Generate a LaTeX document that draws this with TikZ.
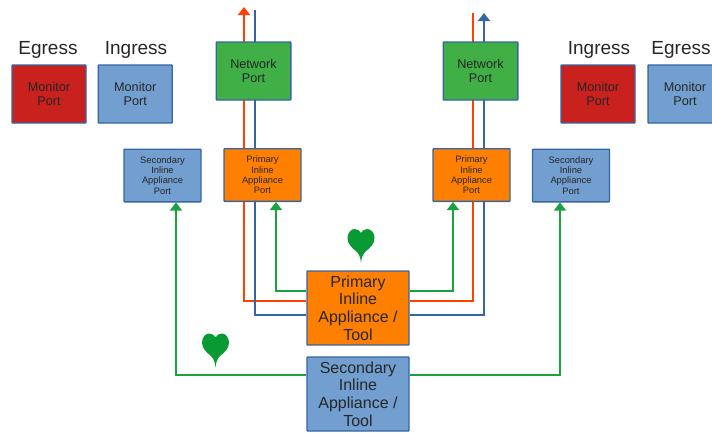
\documentclass[tikz,border=0pt]{standalone}
\usepackage{fontspec}
\setmainfont{Liberation Sans}
\usetikzlibrary{arrows.meta,backgrounds}
\definecolor{portblue}{HTML}{729FCF}
\definecolor{edgeblue}{HTML}{3465A4}
\definecolor{portred}{HTML}{C9211E}
\definecolor{portgreen}{HTML}{3FAF46}
\definecolor{portorange}{HTML}{FF8000}
\definecolor{linered}{HTML}{FF4000}
\definecolor{linegreen}{HTML}{18A33F}
\definecolor{heartgreen}{HTML}{0A9A33}
\tikzset{
  box/.style={draw=edgeblue,line width=1pt,rounded corners=.5pt,inner sep=0pt,align=center,text=black!85},
  monitor/.style={box,minimum width=55.5pt,minimum height=43.5pt,font=\fontsize{9.5}{11}\selectfont},
  netport/.style={monitor,minimum width=56pt,fill=portgreen},
  inlineport/.style={box,minimum width=57.75pt,minimum height=39.5pt,font=\fontsize{7}{7.7}\selectfont},
  tool/.style={box,minimum width=76.5pt,minimum height=55.5pt,font=\fontsize{12}{13.2}\selectfont},
  heading/.style={inner sep=0pt,font=\fontsize{14.25}{16}\selectfont,text=black!85},
  wire/.style={line width=1.2pt},
  tip/.style={-{Triangle[width=9pt,length=6pt]}},
  pics/heart/.style={code={
    \fill[heartgreen] (0,17) .. controls (-.5,11) and (-2,8) .. (-5,5)
      .. controls (-9,2) and (-13.5,-2) .. (-13.5,-8)
      .. controls (-13.5,-13) and (-10,-17) .. (-6.5,-17)
      .. controls (-3.5,-17) and (-1,-15.5) .. (0,-13)
      .. controls (1,-15.5) and (3.5,-17) .. (6.5,-17)
      .. controls (10,-17) and (13.5,-13) .. (13.5,-8)
      .. controls (13.5,-2) and (9,2) .. (5,5)
      .. controls (2,8) and (.5,11) .. (0,17) -- cycle;
  }}
}
\begin{document}
\begin{tikzpicture}[x=.75pt,y=-.75pt]
  \clip (0,0) rectangle (712,432);
  \node[heading] (egressL) at (48,50) {Egress};
  \node[heading] (ingressL) at (136,50) {Ingress};
  \node[heading] (ingressR) at (599,50) {Ingress};
  \node[heading] (egressR) at (681,50) {Egress};
  \node[monitor,fill=portred] (monEgressL) at (49,94) {Monitor\\Port};
  \node[monitor,fill=portblue] (monIngressL) at (135.25,94) {Monitor\\Port};
  \node[monitor,fill=portred] (monIngressR) at (598,94) {Monitor\\Port};
  \node[monitor,fill=portblue] (monEgressR) at (685,94) {Monitor\\Port};
  \node[netport] (netL) at (253.5,71) {Network\\Port};
  \node[netport] (netR) at (480.5,71) {Network\\Port};
  \node[inlineport,fill=portblue] (secL) at (162.5,175.5) {Secondary\\Inline\\Appliance\\Port};
  \node[inlineport,fill=portorange] (priL) at (262.5,175) {Primary\\Inline\\Appliance\\Port};
  \node[inlineport,fill=portorange] (priR) at (471.5,175) {Primary\\Inline\\Appliance\\Port};
  \node[inlineport,fill=portblue] (secR) at (571,175.5) {Secondary\\Inline\\Appliance\\Port};
  \node[tool,fill=portorange] (toolP) at (358,308) {Primary\\Inline\\Appliance /\\Tool};
  \node[tool,fill=portblue] (toolS) at (358,394) {Secondary\\Inline\\Appliance /\\Tool};
  \coordinate (redL) at (244,7);
  \coordinate (blueL) at (255,10);
  \coordinate (redR) at (473,13);
  \coordinate (blueR) at (484,13);
  \pic (heartP) at (361,246) {heart};
  \pic (heartS) at (215.5,350.5) {heart};
  \begin{pgfonlayer}{background}
    \draw[wire,linered,tip] ([yshift=5.25pt]toolP.west) -| (redL);
    \draw[wire,edgeblue] ([yshift=-5.25pt]toolP.west) -| (blueL);
    \draw[wire,linered] ([yshift=5.25pt]toolP.east) -| (redR);
    \draw[wire,edgeblue,tip] ([yshift=-5.25pt]toolP.east) -| (blueR);
  \end{pgfonlayer}
  \draw[wire,linegreen,tip] ([yshift=12.75pt]toolP.west) -| ([xshift=10.1pt]priL.south);
  \draw[wire,linegreen,tip] ([yshift=12.75pt]toolP.east) -| ([xshift=-13.9pt]priR.south);
  \draw[wire,linegreen,tip] ([yshift=14.25pt]toolS.west) -| ([xshift=10.1pt]secL.south);
  \draw[wire,linegreen,tip] ([yshift=14.25pt]toolS.east) -| ([xshift=-8.25pt]secR.south);
\end{tikzpicture}
\end{document}
